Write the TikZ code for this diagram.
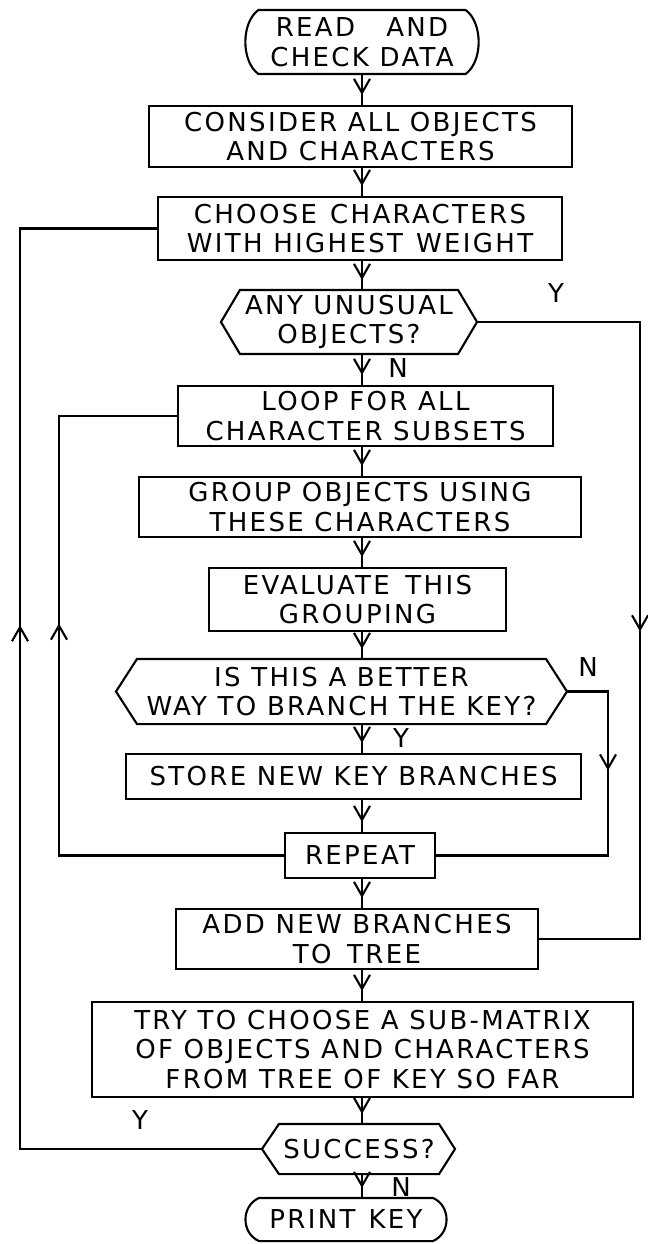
\documentclass[tikz,border=0pt]{standalone}
\usepackage{fontspec}
\newfontfamily\lettering{DejaVu Sans}[LetterSpace=9]
\usetikzlibrary{arrows.meta,decorations.markings,calc}
\begin{document}
\begin{tikzpicture}[x=0.02cm,y=-0.02cm,line width=1.2pt,
  >={Straight Barb[length=2.8mm,width=3.2mm]},
  txt/.style={font=\lettering\fontsize{14.8}{17}\selectfont, align=center, inner sep=0pt},
  box/.style={txt, draw, rectangle},
  flow/.style={postaction={decorate}, decoration={markings, mark=at position -0.2cm with {\arrow{>}}}},
  loopflow/.style={postaction={decorate}, decoration={markings, mark=at position #1 with {\arrow{>}}}},
  lbl/.style={font=\lettering\fontsize{14.8}{17}\selectfont, inner sep=0pt}
]
\useasboundingbox (0,0) rectangle (647,1244);
\coordinate (sp) at (362,0);
\coordinate (outL) at (20,0);
\coordinate (inL) at (59,0);
\coordinate (outR) at (640,0);
\coordinate (inR) at (608,0);

% start terminal
\node[txt, minimum width=4.1cm, minimum height=1.24cm] (st) at (362,42) {READ\hspace{1.2em}AND\\CHECK DATA};
\draw (st.north west) -- (st.north east) .. controls +(0.35cm,-0.25cm) and +(0.35cm,0.25cm) .. (st.south east) -- (st.south west) .. controls +(-0.35cm,0.25cm) and +(-0.35cm,-0.25cm) .. (st.north west) -- cycle;

\node[box, minimum width=8.46cm, minimum height=1.22cm] (b2) at (360.5,136.5) {CONSIDER ALL OBJECTS\\AND CHARACTERS};
\node[box, minimum width=8.08cm, minimum height=1.26cm] (b3) at (360,228.5) {CHOOSE\hspace{0.5em}CHARACTERS\\WITH HIGHEST\hspace{0.5em}WEIGHT};

% hexagon 1
\node[txt, minimum width=4.32cm, minimum height=1.24cm] (h1) at (349,322) {ANY UNUSUAL\\OBJECTS?};
\coordinate (h1r) at ([xshift=0.38cm]h1.east);
\coordinate (h1l) at ([xshift=-0.38cm]h1.west);
\draw (h1.north west) -- (h1.north east) -- (h1r) -- (h1.south east) -- (h1.south west) -- (h1l) -- cycle;

\node[box, minimum width=7.5cm, minimum height=1.2cm] (b4) at (365.5,416) {LOOP FOR ALL\\CHARACTER SUBSETS};
\node[box, minimum width=8.84cm, minimum height=1.2cm] (b5) at (360,507) {GROUP OBJECTS USING\\THESE CHARACTERS};
\node[box, minimum width=5.94cm, minimum height=1.26cm] (b6) at (357.5,599.5) {EVALUATE\hspace{0.6em}THIS\\GROUPING};

% hexagon 2
\node[txt, minimum width=8.14cm, minimum height=1.26cm] (h2) at (341.5,691.5) {IS THIS A BETTER\\WAY TO BRANCH THE KEY?};
\coordinate (h2r) at ([xshift=0.42cm]h2.east);
\coordinate (h2l) at ([xshift=-0.42cm]h2.west);
\draw (h2.north west) -- (h2.north east) -- (h2r) -- (h2.south east) -- (h2.south west) -- (h2l) -- cycle;

\node[box, minimum width=9.1cm, minimum height=0.9cm] (b7) at (353.5,776.5) {STORE NEW KEY BRANCHES};
\node[box, minimum width=3.0cm, minimum height=0.9cm] (b8) at (360,855.5) {REPEAT};
\node[box, minimum width=7.24cm, minimum height=1.2cm] (b9) at (357,939) {ADD NEW BRANCHES\\TO\hspace{0.6em}TREE};
\node[box, minimum width=10.82cm, minimum height=1.9cm] (b10) at (362.5,1049.5) {TRY TO CHOOSE A SUB-MATRIX\\OF OBJECTS AND CHARACTERS\\FROM TREE OF KEY SO FAR};

% hexagon 3
\node[txt, minimum width=3.16cm, minimum height=0.96cm] (h3) at (359,1149) {SUCCESS?};
\coordinate (h3r) at ([xshift=0.32cm]h3.east);
\coordinate (h3l) at ([xshift=-0.34cm]h3.west);
\draw (h3.north west) -- (h3.north east) -- (h3r) -- (h3.south east) -- (h3.south west) -- (h3l) -- cycle;

% end terminal
\node[txt, minimum width=3.44cm, minimum height=0.82cm] (en) at (346,1219.5) {PRINT\hspace{0.5em}KEY};
\draw (en.north west) -- (en.north east) .. controls +(0.36cm,-0.16cm) and +(0.36cm,0.16cm) .. (en.south east) -- (en.south west) .. controls +(-0.36cm,0.16cm) and +(-0.36cm,-0.16cm) .. (en.north west) -- cycle;

% main spine connectors
\draw[flow] (st.south -| sp) -- (b2.north -| sp);
\draw[flow] (b2.south -| sp) -- (b3.north -| sp);
\draw[flow] (b3.south -| sp) -- (h1.north -| sp);
\draw[flow] (h1.south -| sp) -- (b4.north -| sp);
\draw[flow] (b4.south -| sp) -- (b5.north -| sp);
\draw[flow] (b5.south -| sp) -- (b6.north -| sp);
\draw[flow] (b6.south -| sp) -- (h2.north -| sp);
\draw[flow] (h2.south -| sp) -- (b7.north -| sp);
\draw[flow] (b7.south -| sp) -- (b8.north -| sp);
\draw[flow] (b8.south -| sp) -- (b9.north -| sp);
\draw[flow] (b9.south -| sp) -- (b10.north -| sp);
\draw[flow] (b10.south -| sp) -- (h3.north -| sp);
\draw[flow] (h3.south -| sp) -- (en.north -| sp);

% loops
\draw[loopflow=15.32cm] (h3l) -- (h3l -| outL) -- (b3.west -| outL) -- (b3.west);
\draw[loopflow=9.14cm] (b8.west) -- (b8.west -| inL) -- (b4.west -| inL) -- (b4.west);
\draw[loopflow=9.45cm] (h1r) -- (h1r -| outR) -- (b9.east -| outR) -- (b9.east);
\draw[loopflow=2.4cm] (h2r) -- (h2r -| inR) -- (b8.east -| inR) -- (b8.east);

% labels
\node[lbl] (y1) at (556,293) {Y};
\node[lbl] (n1) at (398,368) {N};
\node[lbl] (n2) at (588,667) {N};
\node[lbl] (y2) at (401,738) {Y};
\node[lbl] (y3) at (140,1120) {Y};
\node[lbl] (n3) at (401,1187) {N};
\end{tikzpicture}
\end{document}
